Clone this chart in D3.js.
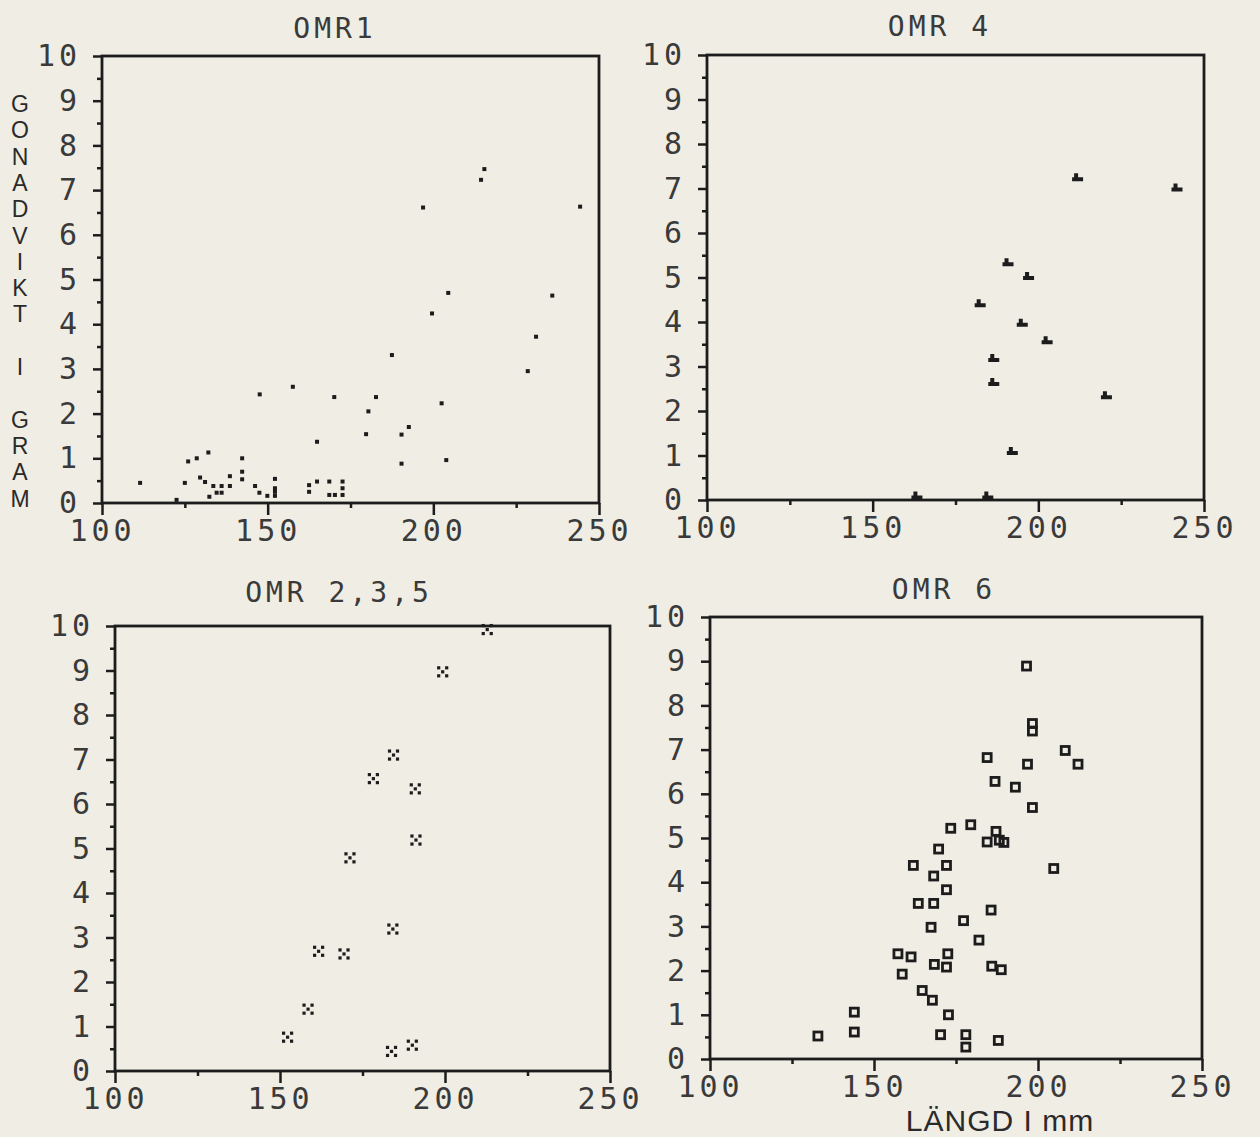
<!DOCTYPE html>
<html>
<head>
<meta charset="utf-8">
<script src="https://cdn.jsdelivr.net/npm/d3@7"></script>
<style>
  body { margin: 0; background: #efede4; }
  svg { display: block; }
  .tick line { stroke: #1c1c1c; stroke-width: 2.5; }
  .tick text { font-family: "DejaVu Sans Mono", monospace; font-size: 30px; fill: #3a3a3a; letter-spacing: 4px; }
  .ttl { font-family: "DejaVu Sans Mono", monospace; font-size: 28px; fill: #3a3a3a; letter-spacing: 4px; }
  .lbl { font-family: "Liberation Sans", Arial, sans-serif; fill: #2a2a2a; }
</style>
</head>
<body>
<svg width="1260" height="1137"></svg>
<script>
// langd (mm), gonadvikt (g)
var omr1 = [[111.5,0.45],[122.5,0.07],[125,0.45],[126,0.93],[128.6,1.0],[132.1,1.13],[129.6,0.57],[131.1,0.47],
  [132.4,0.14],[133.6,0.38],[136.1,0.38],[134.6,0.23],[136.1,0.23],[138.6,0.6],[138.6,0.38],[142.3,1.0],
  [142.3,0.7],[142.3,0.53],[146.2,0.38],[147.5,0.23],[149.9,0.16],[152.2,0.54],[152.2,0.33],[152.2,0.25],
  [152.2,0.16],[147.6,2.43],[157.6,2.6],[162.5,0.4],[162.5,0.25],[164.9,1.37],[164.9,0.48],[168.6,0.48],
  [168.6,0.18],[170.3,0.18],[170.1,2.37],[172.6,0.48],[172.6,0.33],[172.6,0.18],[179.7,1.54],[180.4,2.05],
  [182.7,2.37],[187.5,3.31],[190.4,1.53],[190.4,0.88],[192.6,1.7],[196.9,6.61],[199.6,4.24],[202.5,2.23],
  [203.9,0.96],[204.5,4.7],[214.4,7.23],[215.4,7.47],[228.5,2.95],[231,3.72],[235.9,4.64],[244.3,6.63]];

var omr4 = [[211.7,7.23],[241.7,7.0],[190.7,5.32],[196.9,5.01],[182.3,4.4],[195,3.96],[202.5,3.57],
  [186.4,3.17],[186.4,2.63],[220.4,2.33],[192,1.08],[163.2,0.08],[184.6,0.08]];

var omr235 = [[212.8,9.92],[199.3,8.97],[184.4,7.1],[178.3,6.57],[191,6.34],[191.2,5.19],[171.2,4.79],
  [184.2,3.19],[161.7,2.69],[169.4,2.63],[158.5,1.39],[152.3,0.76],[183.8,0.44],[190.1,0.58]];

var omr6 = [[196.5,8.89],[198.3,7.59],[198.3,7.42],[208.3,6.98],[184.5,6.82],[196.8,6.67],[212.2,6.67],
  [186.9,6.28],[193.1,6.15],[198.3,5.69],[173.4,5.22],[179.5,5.3],[187.2,5.15],[184.5,4.91],[188.2,4.95],
  [189.6,4.9],[169.7,4.75],[162,4.38],[172.1,4.38],[204.8,4.31],[168.2,4.14],[172.1,3.83],[163.5,3.52],
  [168.2,3.52],[185.7,3.37],[167.4,2.98],[177.3,3.13],[182,2.69],[157.3,2.38],[161.3,2.31],[172.5,2.38],
  [168.4,2.14],[172.1,2.08],[185.9,2.1],[188.8,2.02],[158.6,1.92],[164.7,1.55],[167.8,1.33],[172.7,1.0],
  [144,1.06],[144,0.61],[132.9,0.52],[170.3,0.55],[178,0.55],[178,0.27],[187.9,0.42]];

var xMajor = [100, 150, 200, 250];
var xMinor = [125, 175, 225];
var yMajor = [0, 1, 2, 3, 4, 5, 6, 7, 8, 9, 10];
var yMinor = [0.5, 1.5, 2.5, 3.5, 4.5, 5.5, 6.5, 7.5, 8.5, 9.5];
var yTitle = ["G","O","N","A","D","V","I","K","T"," ","I"," ","G","R","A","M"];

var ink = "#1c1c1c";

var panels = [
  {title: "OMR1", data: omr1, mark: "dot", left: 102, right: 599, top: 56, bottom: 503, tx: 335, ty: 38},
  {title: "OMR 4", data: omr4, mark: "flag", left: 707, right: 1204, top: 55, bottom: 500, tx: 940, ty: 36},
  {title: "OMR 2,3,5", data: omr235, mark: "cross", left: 115, right: 610, top: 626, bottom: 1071, tx: 339, ty: 602},
  {title: "OMR 6", data: omr6, mark: "box", left: 710, right: 1202, top: 617, bottom: 1059, tx: 944, ty: 599}
];

var svg = d3.select("svg");
svg.append("rect").attr("width", 1260).attr("height", 1137).attr("fill", "#efede4");

panels.forEach(function(p) {
  var x = d3.scaleLinear().domain([100, 250]).range([p.left, p.right]);
  var y = d3.scaleLinear().domain([0, 10]).range([p.bottom, p.top]);
  var g = svg.append("g");

  g.append("g").attr("transform", `translate(${p.left},0)`)
    .call(d3.axisLeft(y).tickValues(yMinor).tickSize(5).tickFormat(""));
  g.append("g").attr("transform", `translate(${p.left},0)`)
    .call(d3.axisLeft(y).tickValues(yMajor).tickSize(9).tickPadding(12).tickFormat(d3.format("d")));
  g.append("g").attr("transform", `translate(0,${p.bottom})`)
    .call(d3.axisBottom(x).tickValues(xMinor).tickSize(5).tickFormat(""));
  g.append("g").attr("transform", `translate(0,${p.bottom})`)
    .call(d3.axisBottom(x).tickValues(xMajor).tickSize(12).tickPadding(5).tickFormat(d3.format("d")));
  g.selectAll(".domain").remove();

  g.append("rect")
    .attr("x", p.left).attr("y", p.top)
    .attr("width", p.right - p.left).attr("height", p.bottom - p.top)
    .attr("fill", "none").attr("stroke", ink).attr("stroke-width", 2.8);

  g.append("text").attr("class", "ttl")
    .attr("x", p.tx).attr("y", p.ty).attr("text-anchor", "middle")
    .text(p.title);

  var pts = g.append("g").selectAll("g").data(p.data).enter().append("g")
    .attr("transform", d => `translate(${x(d[0])},${y(d[1])})`);

  if (p.mark == "dot") {
    pts.append("rect").attr("x", -2).attr("y", -2).attr("width", 4).attr("height", 4).attr("fill", ink);
  } else if (p.mark == "flag") {
    pts.append("path").attr("d", "M-5,3L6,3L6,-1L1,-1L1,-5L-3,-5L-3,-1L-5,-1Z").attr("fill", ink);
  } else if (p.mark == "cross") {
    [[-4,-4],[4,-4],[0,0],[-4,4],[4,4]].forEach(function(o) {
      pts.append("rect").attr("x", o[0] - 1.6).attr("y", o[1] - 1.6)
        .attr("width", 3.2).attr("height", 3.2).attr("fill", ink);
    });
  } else {
    pts.append("rect").attr("x", -4).attr("y", -4).attr("width", 8).attr("height", 8)
      .attr("fill", "none").attr("stroke", ink).attr("stroke-width", 2.8);
  }
});

// y title, letters stacked
svg.append("g").selectAll("text").data(yTitle).enter().append("text")
  .attr("class", "lbl")
  .attr("font-size", "23px")
  .attr("x", 20)
  .attr("y", (d, i) => 112 + i * 26.3)
  .attr("text-anchor", "middle")
  .text(d => d);

svg.append("text").attr("class", "lbl")
  .attr("font-size", "30px")
  .attr("x", 1000).attr("y", 1131).attr("text-anchor", "middle")
  .attr("letter-spacing", "1px")
  .text("LÄNGD I mm");
</script>
</body>
</html>
